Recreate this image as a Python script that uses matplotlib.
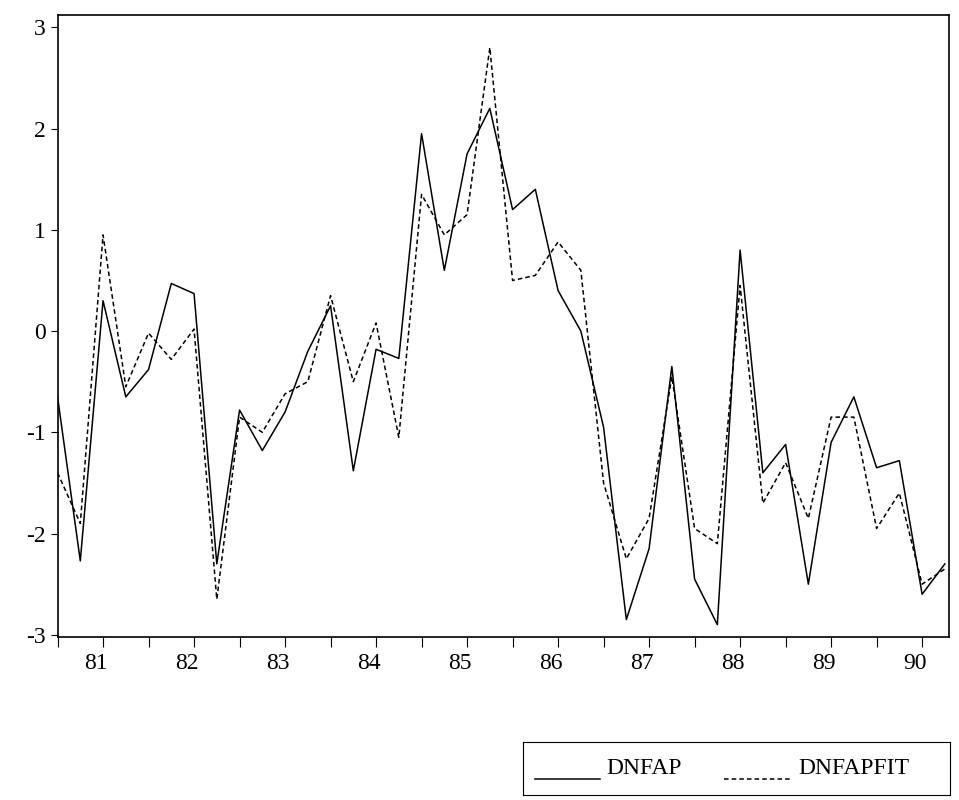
import matplotlib
matplotlib.use("Agg")
import matplotlib.pyplot as plt
import numpy as np

dnfap = [-0.65,-2.27,0.3,-0.65,-0.38,0.47,0.37,-2.3,-0.78,-1.18,-0.8,-0.2,0.25,-1.38,-0.18,-0.27,
         1.95,0.6,1.75,2.2,1.2,1.4,0.4,0.0,-0.95,-2.85,-2.15,-0.35,-2.45,-2.9,0.8,-1.4,-1.12,-2.5,
         -1.1,-0.65,-1.35,-1.28,-2.6,-2.3]
dnfapfit = [-1.4,-1.9,0.95,-0.55,-0.02,-0.28,0.02,-2.65,-0.85,-1.0,-0.62,-0.5,0.35,-0.5,0.08,-1.05,
            1.35,0.95,1.15,2.8,0.5,0.55,0.88,0.6,-1.5,-2.25,-1.85,-0.45,-1.95,-2.1,0.45,-1.7,-1.3,
            -1.85,-0.85,-0.85,-1.95,-1.6,-2.5,-2.35]
year_labels = ["81","82","83","84","85","86","87","88","89","90"]

plt.rcParams['font.family'] = ['Liberation Serif', 'DejaVu Serif']
fig = plt.figure(figsize=(9.59, 8.0), dpi=100)
ax = fig.add_axes([0.06, 0.204, 0.93, 0.777])
x = np.arange(len(dnfap))
ax.plot(x, dnfap, color='black', lw=1.1, ls='-')
ax.plot(x, dnfapfit, color='black', lw=1.1, ls=(0, (3, 2)))
ax.set_xlim(0, 39.2)
ax.set_ylim(-3.02, 3.12)
ax.set_yticks([-3,-2,-1,0,1,2,3])
ax.set_yticklabels(["-3","-2","-1","0","1","2","3"], fontsize=17)
ax.set_xticks(np.arange(0, 40, 2))
ax.set_xticklabels([])
ax.set_xticks([1.7 + 4*k for k in range(10)], minor=True)
ax.set_xticklabels(year_labels, minor=True, fontsize=17)
ax.tick_params(axis='x', which='minor', length=0, pad=12)
ax.tick_params(axis='x', which='major', length=7, direction='out')
ax.tick_params(axis='y', length=5, direction='out')
for s in ax.spines.values():
    s.set_linewidth(1.2)

lax = fig.add_axes([0.545, 0.006, 0.446, 0.066])
lax.set_xticks([]); lax.set_yticks([])
lax.set_xlim(0, 1); lax.set_ylim(0, 1)
lax.plot([0.03, 0.18], [0.3, 0.3], color='black', lw=1.1)
lax.text(0.195, 0.5, "DNFAP", fontsize=17, va='center')
lax.plot([0.47, 0.63], [0.3, 0.3], color='black', lw=1.1, ls=(0, (3, 2)))
lax.text(0.645, 0.5, "DNFAPFIT", fontsize=17, va='center')

fig.savefig("out.png", dpi=100)
